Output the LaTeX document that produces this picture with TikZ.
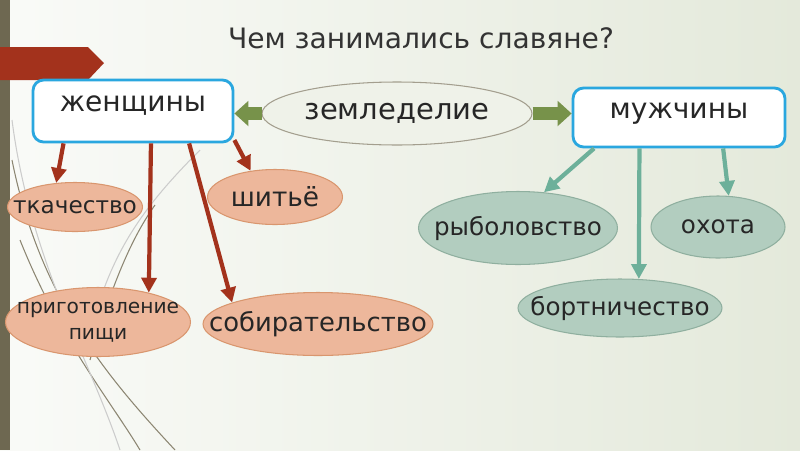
\documentclass[tikz,border=0pt]{standalone}
\usepackage{fontspec}
\setmainfont{DejaVu Sans}
\usepackage{xcolor}
\usetikzlibrary{arrows.meta,shapes.geometric,positioning}

\definecolor{boxblue}{HTML}{2AA7DF}
\definecolor{olivegreen}{HTML}{77924A}
\definecolor{rustred}{HTML}{A3321C}
\definecolor{peach}{HTML}{EDB79B}
\definecolor{peachline}{HTML}{D9966E}
\definecolor{sage}{HTML}{B2CDBF}
\definecolor{sageline}{HTML}{8FAF9F}
\definecolor{teal}{HTML}{6DB09A}
\definecolor{barbrown}{HTML}{6E6851}
\definecolor{decorgray}{HTML}{8C8672}

\begin{document}
\begin{tikzpicture}[x=0.02cm, y=-0.02cm,
    every node/.style={text=black!85},
    mainbox/.style={draw=boxblue, line width=1.6pt, fill=white, rounded corners=6pt,
        minimum width=4cm, text height=11pt, text depth=10pt, font=\fontsize{16}{19}\selectfont},
    redblob/.style={ellipse, draw=peachline, fill=peach, line width=0.6pt, inner sep=0pt},
    greenblob/.style={ellipse, draw=sageline, fill=sage, line width=0.6pt, inner sep=0pt},
    redarrow/.style={draw=rustred, line width=2.4pt, -{Triangle[length=8.5pt, width=8.5pt]}},
    greenarrow/.style={draw=teal, line width=2.4pt, -{Triangle[length=8.5pt, width=8.5pt]}},
    fatarrow/.style={draw=olivegreen, line width=7pt, -{Triangle[length=8pt, width=14pt]}},
    decor/.style={draw=decorgray, line width=0.6pt},
    blobtext/.style={font=\fontsize{14}{17}\selectfont}]

    % background
    \useasboundingbox (0,0) rectangle (800,450);
    \shade[left color=white!96!olivegreen, right color=olivegreen!20!white] (0,0) rectangle (800,450);
    \draw[decor] (12,160) .. controls (40,300) and (110,380) .. (175,450);
    \draw[decor] (20,240) .. controls (60,340) and (110,400) .. (140,450);
    \draw[decor, draw=black!20] (12,120) .. controls (30,260) and (90,360) .. (120,450);
    \draw[decor] (90,360) .. controls (110,290) and (130,240) .. (155,205);
    \draw[decor, draw=black!20] (200,150) .. controls (150,200) and (120,240) .. (100,300);
    \fill[barbrown] (0,0) rectangle (10,450);
    \fill[rustred] (0,47) -- (88,47) -- (104,63) -- (88,80) -- (0,80) -- cycle;

    % title
    \node[font=\fontsize{16}{19}\selectfont, text=black!80] (title) at (421,38) {Чем занимались славяне?};

    % main boxes
    \node[mainbox, minimum height=1.24cm] (women) at (133,111) {женщины};
    \node[mainbox, minimum width=4.24cm, minimum height=1.18cm] (men) at (679,117.5) {мужчины};
    \node[ellipse, draw=decorgray!80, fill=olivegreen!12!white, line width=0.6pt,
        minimum width=5.4cm, minimum height=1.26cm, inner sep=0pt] (farm) at (397,113.5) {};
    \node[font=\fontsize{16.5}{19}\selectfont] at (farm) {земледелие};

    \draw[fatarrow] (farm.west) -- (farm.west -| women.east);
    \draw[fatarrow] (farm.east) -- (farm.east -| men.west);

    % women's work
    \node[redblob, minimum width=2.7cm, minimum height=0.98cm] (weaving) at (75,207) {};
    \node[font=\fontsize{13.2}{16}\selectfont] at (weaving) {ткачество};
    \node[redblob, minimum width=2.7cm, minimum height=1.1cm] (sewing) at (275,197) {};
    \node[font=\fontsize{15}{18}\selectfont] at (sewing) {шитьё};
    \node[redblob, minimum width=3.7cm, minimum height=1.38cm] (cooking) at (98,322) {};
    \node[align=center, font=\fontsize{11.5}{15}\selectfont] at (cooking) {приготовление\\пищи};
    \node[redblob, minimum width=4.6cm, minimum height=1.26cm] (gather) at (318,324) {};
    \node[font=\fontsize{14.7}{17}\selectfont] at (gather) {собирательство};

    \draw[redarrow] (women.-155.5) -- (weaving.128);
    \draw[redarrow] (women.-61.3) -- (cooking.30);
    \draw[redarrow] (women.-30.8) -- (gather.166);
    \draw[redarrow] (women.-16.3) -- (sewing.133);

    % men's work
    \node[greenblob, minimum width=3.98cm, minimum height=1.46cm] (fishing) at (518,228) {};
    \node[blobtext] at (fishing) {рыболовство};
    \node[greenblob, minimum width=2.68cm, minimum height=1.24cm] (hunting) at (718,227) {};
    \node[font=\fontsize{14}{17}\selectfont] at (hunting) {охота};
    \node[greenblob, minimum width=4.08cm, minimum height=1.16cm] (honey) at (620,308) {};
    \node[blobtext] at (honey) {бортничество};

    \draw[greenarrow] (men.-160.5) -- (fishing.54.5);
    \draw[greenarrow] (men.-142) -- (honey.57);
    \draw[greenarrow] (men.-35.4) -- (hunting.71);
\end{tikzpicture}
\end{document}
